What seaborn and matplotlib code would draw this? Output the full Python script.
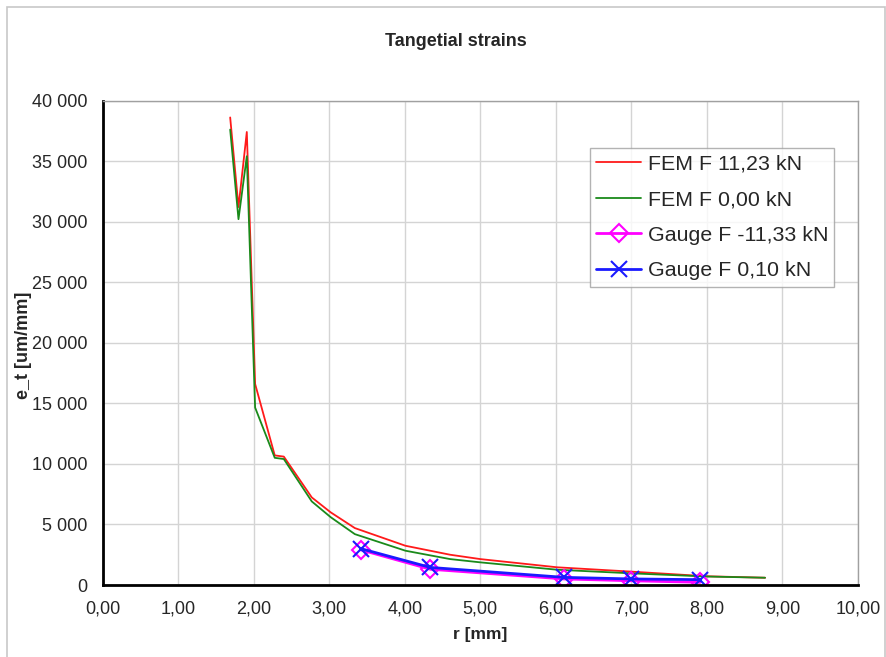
import matplotlib
matplotlib.use("Agg")
import matplotlib.pyplot as plt
import seaborn as sns
from matplotlib.ticker import FuncFormatter, MultipleLocator
from matplotlib.patches import Rectangle

# 数据
r_fem = [1.69, 1.80, 1.91, 2.02, 2.28, 2.40, 2.77, 3.02, 3.34, 4.01, 4.60, 5.00, 6.02, 7.01, 8.00, 8.77]
fem_1123 = [38600, 31200, 37400, 16600, 10700, 10600, 7230, 6000, 4700, 3240, 2500, 2140, 1460, 1100, 720, 600]
fem_000 = [37600, 30200, 35400, 14650, 10500, 10400, 6900, 5600, 4200, 2830, 2140, 1870, 1260, 960, 700, 600]

r_gauge = [3.42, 4.34, 6.11, 7.00, 7.91]
gauge_m1133 = [2900, 1300, 500, 350, 220]
gauge_010 = [3000, 1450, 630, 500, 440]

sns.set_style("white")
plt.rcParams['font.family'] = ['Liberation Sans', 'DejaVu Sans']

fig = plt.figure(figsize=(8.87, 6.57), dpi=100)
W, H = 887, 657
ax = fig.add_axes([102.5 / W, 1 - 585 / H, (858 - 102.5) / W, (585 - 100.5) / H])

# 外框
fig.patches.append(Rectangle((7 / W, -0.01), (885 - 7) / W, 1 - 7 / H + 0.01,
                             transform=fig.transFigure, fill=False,
                             edgecolor="#c8c8c8", linewidth=1.2))

sns.lineplot(x=r_fem, y=fem_1123, sort=False, estimator=None, color="#ff1a1a",
             linewidth=1.3, label="FEM F 11,23 kN", ax=ax)
sns.lineplot(x=r_fem, y=fem_000, sort=False, estimator=None, color="#1a8a1a",
             linewidth=1.3, label="FEM F 0,00 kN", ax=ax)
sns.lineplot(x=r_gauge, y=gauge_m1133, sort=False, estimator=None, color="#ff00ff",
             linewidth=2, marker="D", markersize=9, markerfacecolor="none",
             markeredgecolor="#ff00ff", markeredgewidth=1.5,
             label="Gauge F -11,33 kN", ax=ax)
sns.lineplot(x=r_gauge, y=gauge_010, sort=False, estimator=None, color="#1a1aff",
             linewidth=2, marker="x", markersize=12, markeredgewidth=1.5,
             markeredgecolor="#1a1aff", dashes=False,
             label="Gauge F 0,10 kN", ax=ax)

ax.set_xlim(0, 10)
ax.set_ylim(0, 40000)
ax.xaxis.set_major_locator(MultipleLocator(1))
ax.yaxis.set_major_locator(MultipleLocator(5000))
ax.xaxis.set_major_formatter(FuncFormatter(lambda v, p: f"{v:.2f}".replace(".", ",")))
ax.yaxis.set_major_formatter(FuncFormatter(lambda v, p: f"{int(v):,}".replace(",", " ")))

ax.grid(True, color="#d4d4d4", linewidth=1)
ax.set_axisbelow(True)
for s in ["top", "right"]:
    ax.spines[s].set_color("#a0a0a0")
    ax.spines[s].set_linewidth(1)
for s in ["left", "bottom"]:
    ax.spines[s].set_color("black")
    ax.spines[s].set_linewidth(2)
ax.tick_params(axis="both", direction="out", length=5, width=2, color="black",
               labelsize=13)
ax.tick_params(axis="x", pad=6)
ax.tick_params(axis="y", pad=6)

fig.text(456 / W, 1 - 42 / H, "Tangetial strains", fontsize=13, fontweight="bold",
         ha="center", va="center")
ax.set_xlabel("r [mm]", fontsize=12.5, fontweight="bold", labelpad=7)
ax.set_ylabel("e_t [um/mm]", fontsize=13, fontweight="bold")
ax.yaxis.set_label_coords(-0.093, 0.495)

leg = ax.legend(loc="upper left", bbox_to_anchor=(0.645, 0.902), borderaxespad=0,
                fontsize=15.4, frameon=True, fancybox=False, handlelength=2.1,
                handletextpad=0.3, labelspacing=0.78, borderpad=0.3)
leg.get_frame().set_edgecolor("#a0a0a0")
leg.get_frame().set_linewidth(1)

fig.savefig("out.png", dpi=100)
